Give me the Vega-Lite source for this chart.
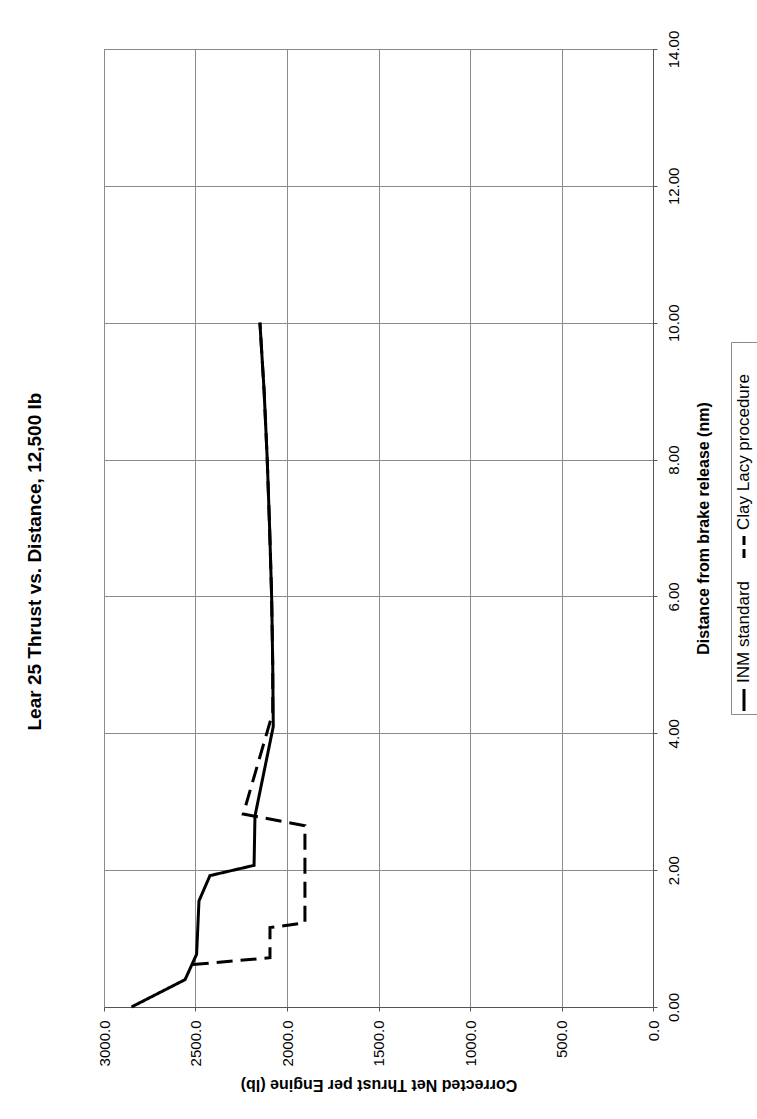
{
  "$schema": "https://vega.github.io/schema/vega-lite/v6.json",
  "background": "white",
  "autosize": {"type": "pad"},
  "padding": {"left": 25, "top": 29, "right": 0, "bottom": 20},
  "title": {
    "text": "Lear 25 Thrust vs. Distance, 12,500 lb",
    "orient": "left",
    "anchor": "middle",
    "angle": 270,
    "baseline": "bottom",
    "offset": 33,
    "font": "Liberation Sans",
    "fontSize": 19,
    "fontWeight": "bold",
    "color": "black"
  },
  "config": {
    "font": "Liberation Sans",
    "view": {"stroke": null},
    "axis": {
      "labelFont": "Liberation Sans",
      "labelFontSize": 15,
      "labelColor": "black",
      "titleFont": "Liberation Sans",
      "titleFontSize": 16,
      "titleFontWeight": "bold",
      "titleColor": "black",
      "gridColor": "#8a8a8a",
      "gridWidth": 1,
      "gridOpacity": 1,
      "domainColor": "#555555",
      "tickColor": "#555555",
      "tickSize": 4
    }
  },
  "datasets": {
    "thrust": [
      {"series": "INM standard", "step": 1, "distance": 0.0, "thrust": 2850},
      {"series": "INM standard", "step": 2, "distance": 0.4, "thrust": 2557},
      {"series": "INM standard", "step": 3, "distance": 0.77, "thrust": 2494},
      {"series": "INM standard", "step": 4, "distance": 1.55, "thrust": 2481},
      {"series": "INM standard", "step": 5, "distance": 1.92, "thrust": 2421},
      {"series": "INM standard", "step": 6, "distance": 2.07, "thrust": 2180},
      {"series": "INM standard", "step": 7, "distance": 2.79, "thrust": 2175},
      {"series": "INM standard", "step": 8, "distance": 4.1, "thrust": 2075},
      {"series": "INM standard", "step": 9, "distance": 5.0, "thrust": 2078},
      {"series": "INM standard", "step": 10, "distance": 6.0, "thrust": 2084},
      {"series": "INM standard", "step": 11, "distance": 7.0, "thrust": 2095},
      {"series": "INM standard", "step": 12, "distance": 8.0, "thrust": 2108},
      {"series": "INM standard", "step": 13, "distance": 9.0, "thrust": 2125},
      {"series": "INM standard", "step": 14, "distance": 10.0, "thrust": 2148},
      {"series": "Clay Lacy procedure", "step": 1, "distance": 0.62, "thrust": 2515},
      {"series": "Clay Lacy procedure", "step": 2, "distance": 0.72, "thrust": 2093},
      {"series": "Clay Lacy procedure", "step": 3, "distance": 1.16, "thrust": 2093},
      {"series": "Clay Lacy procedure", "step": 4, "distance": 1.23, "thrust": 1902},
      {"series": "Clay Lacy procedure", "step": 5, "distance": 2.65, "thrust": 1902},
      {"series": "Clay Lacy procedure", "step": 6, "distance": 2.82, "thrust": 2239},
      {"series": "Clay Lacy procedure", "step": 7, "distance": 4.3, "thrust": 2078},
      {"series": "Clay Lacy procedure", "step": 8, "distance": 5.0, "thrust": 2078},
      {"series": "Clay Lacy procedure", "step": 9, "distance": 6.0, "thrust": 2084},
      {"series": "Clay Lacy procedure", "step": 10, "distance": 7.0, "thrust": 2095},
      {"series": "Clay Lacy procedure", "step": 11, "distance": 8.0, "thrust": 2108},
      {"series": "Clay Lacy procedure", "step": 12, "distance": 9.0, "thrust": 2125},
      {"series": "Clay Lacy procedure", "step": 13, "distance": 10.0, "thrust": 2148}
    ],
    "legend": [
      {"series": "INM standard"},
      {"series": "Clay Lacy procedure"}
    ]
  },
  "bounds": "flush",
  "center": true,
  "spacing": 78,
  "resolve": {"scale": {"strokeDash": "independent"}},
  "hconcat": [
    {
      "width": 549,
      "height": 958,
      "view": {"stroke": "#8a8a8a"},
      "data": {"name": "thrust"},
      "mark": {"type": "line", "color": "black", "strokeWidth": 3},
      "encoding": {
        "x": {
          "field": "thrust",
          "type": "quantitative",
          "scale": {"domain": [0, 3000], "reverse": true, "nice": false},
          "axis": {
            "orient": "bottom",
            "values": [0, 500, 1000, 1500, 2000, 2500, 3000],
            "format": ".1f",
            "labelAngle": 270,
            "labelAlign": "right",
            "labelBaseline": "middle",
            "labelPadding": 9,
            "title": "Corrected Net Thrust per Engine (lb)",
            "titleAngle": 180,
            "titleBaseline": "bottom",
            "titlePadding": 11
          }
        },
        "y": {
          "field": "distance",
          "type": "quantitative",
          "scale": {"domain": [0, 14], "nice": false},
          "axis": {
            "orient": "right",
            "values": [0, 2, 4, 6, 8, 10, 12, 14],
            "format": ".2f",
            "labelAngle": 270,
            "labelAlign": "center",
            "labelBaseline": "top",
            "labelPadding": 9,
            "title": "Distance from brake release (nm)",
            "titleAngle": 270,
            "titleBaseline": "top",
            "titlePadding": 14
          }
        },
        "strokeDash": {
          "field": "series",
          "type": "nominal",
          "scale": {"domain": ["INM standard", "Clay Lacy procedure"], "range": [[1, 0], [16, 8]]},
          "legend": null
        },
        "order": {"field": "step", "type": "quantitative"}
      }
    },
    {
      "width": 26,
      "height": 372,
      "view": {"stroke": "#8a8a8a", "fill": "white"},
      "data": {"name": "legend"},
      "layer": [
        {
          "mark": {"type": "rule", "color": "black", "strokeWidth": 3, "yOffset": -3, "y2Offset": -25},
          "encoding": {
            "y": {
              "field": "series",
              "type": "nominal",
              "bandPosition": 1,
              "scale": {"domain": ["Clay Lacy procedure", "INM standard"], "paddingInner": 0, "paddingOuter": 0.2157, "align": 1},
              "axis": null
            },
            "y2": {"field": "series", "bandPosition": 1},
            "strokeDash": {
              "field": "series",
              "type": "nominal",
              "scale": {"domain": ["INM standard", "Clay Lacy procedure"], "range": [[1, 0], [9, 4]]},
              "legend": null
            }
          }
        },
        {
          "mark": {"type": "text", "angle": 270, "align": "left", "baseline": "middle", "dx": 31, "fontSize": 17, "font": "Liberation Sans", "color": "black"},
          "encoding": {
            "y": {
              "field": "series",
              "type": "nominal",
              "bandPosition": 1,
              "scale": {"domain": ["Clay Lacy procedure", "INM standard"], "paddingInner": 0, "paddingOuter": 0.2157, "align": 1},
              "axis": null
            },
            "text": {"field": "series"}
          }
        }
      ]
    }
  ]
}
